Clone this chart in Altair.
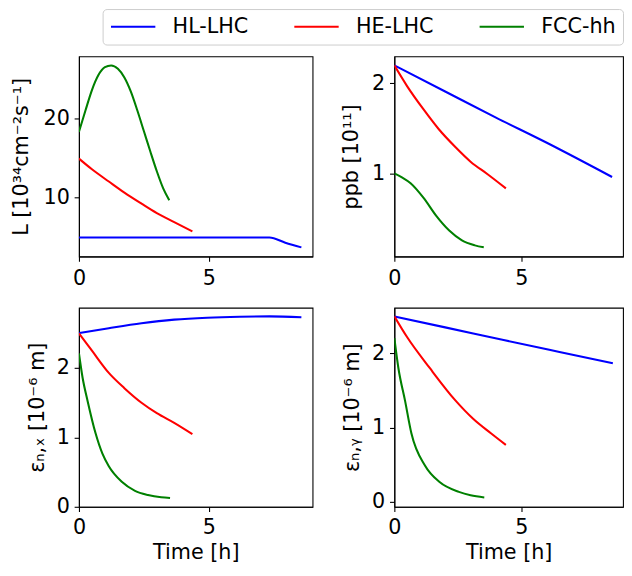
import altair as alt
import pandas as pd

machines = ["HL-LHC", "HE-LHC", "FCC-hh"]
colors = ["#0000ff", "#ff0000", "#008000"]

# Panel 1: luminosity [1e34 cm^-2 s^-1]
lumi_hl_t = [0, 2, 4, 6, 7.34, 7.95, 8.57]
lumi_hl_v = [4.9, 4.9, 4.9, 4.9, 4.9, 4.25, 3.65]
lumi_he_t = [0, 0.5, 1.15, 1.75, 2.41, 3.0, 3.67, 4.37]
lumi_he_v = [14.9, 13.55, 12.0, 10.6, 9.2, 8.0, 6.85, 5.68]
lumi_fcc_t = [0, 0.25, 0.5, 0.75, 1.0, 1.24, 1.5, 1.75, 2.0, 2.25, 2.5, 2.75, 3.0, 3.25, 3.48]
lumi_fcc_v = [18.3, 21.0, 23.6, 25.5, 26.5, 26.72, 26.3, 25.2, 23.4, 21.0, 18.4, 15.8, 13.3, 11.1, 9.63]

# Panel 2: protons per bunch [1e11]
ppb_hl_t = [0, 2, 4, 6, 8.57]
ppb_hl_v = [2.20, 1.91, 1.62, 1.34, 0.96]
ppb_he_t = [0, 0.5, 1.15, 1.75, 2.41, 3.0, 3.67, 4.39]
ppb_he_v = [2.2, 1.97, 1.71, 1.49, 1.29, 1.13, 0.99, 0.833]
ppb_fcc_t = [0, 0.3, 0.64, 1.15, 1.65, 2.16, 2.66, 3.17, 3.52]
ppb_fcc_v = [1.0, 0.955, 0.89, 0.727, 0.527, 0.364, 0.255, 0.2, 0.178]

# Panel 3: horizontal normalised emittance [1e-6 m]
ex_hl_t = [0, 1.15, 2.41, 3.67, 4.94, 6.2, 7.34, 8.57]
ex_hl_v = [2.505, 2.575, 2.646, 2.698, 2.726, 2.74, 2.745, 2.731]
ex_he_t = [0, 0.5, 1.15, 1.75, 2.41, 3.0, 3.67, 4.37]
ex_he_v = [2.5, 2.25, 1.93, 1.71, 1.50, 1.35, 1.21, 1.047]
ex_fcc_t = [0, 0.14, 0.33, 0.64, 0.9, 1.15, 1.65, 2.16, 2.66, 3.17, 3.51]
ex_fcc_v = [2.21, 1.86, 1.53, 1.06, 0.77, 0.585, 0.36, 0.23, 0.17, 0.137, 0.127]

# Panel 4: vertical normalised emittance [1e-6 m]
ey_hl_t = [0, 2, 4.3, 6.5, 8.6]
ey_hl_v = [2.496, 2.35, 2.18, 2.02, 1.868]
ey_he_t = [0, 0.5, 1.4, 2.41, 3.1, 3.8, 4.39]
ey_he_v = [2.5, 2.22, 1.80, 1.364, 1.12, 0.925, 0.768]
ey_fcc_t = [0, 0.16, 0.42, 0.67, 1.21, 1.78, 2.54, 3.0, 3.54]
ey_fcc_v = [2.206, 1.80, 1.364, 0.925, 0.487, 0.268, 0.136, 0.09, 0.061]

series = {
    "lumi": [(lumi_hl_t, lumi_hl_v), (lumi_he_t, lumi_he_v), (lumi_fcc_t, lumi_fcc_v)],
    "ppb": [(ppb_hl_t, ppb_hl_v), (ppb_he_t, ppb_he_v), (ppb_fcc_t, ppb_fcc_v)],
    "ex": [(ex_hl_t, ex_hl_v), (ex_he_t, ex_he_v), (ex_fcc_t, ex_fcc_v)],
    "ey": [(ey_hl_t, ey_hl_v), (ey_he_t, ey_he_v), (ey_fcc_t, ey_fcc_v)],
}

rows = []
for key, lst in series.items():
    for k, (ts, vs) in enumerate(lst):
        for t, v in zip(ts, vs):
            rows.append({"panel": key, "machine": machines[k], "order": k, "t": t, "v": v})
df = pd.DataFrame(rows)

FS = 21
FONT = "DejaVu Sans"


def panel(key, width, height, ydom, yvals, ytitle, title_x, xtitle, legend):
    xaxis = dict(values=[0, 5], format="d")
    if xtitle:
        xaxis.update(title=xtitle, titleX=width / 2, titleY=52, titleBaseline="alphabetic",
                     labelPadding=5)
    else:
        xaxis.update(title=None, labelPadding=6.7)
    yaxis = alt.Axis(values=yvals, format="d", title=ytitle, titleX=title_x,
                     titleY=height / 2, titleBaseline="alphabetic")
    if legend:
        leg = alt.Legend(orient="none", legendX=24, legendY=-48, direction="horizontal",
                         columns=3, title=None, symbolType="M-1,0H1", symbolSize=2025,
                         symbolStrokeWidth=2.1, labelFontSize=FS, labelFont=FONT,
                         labelColor="black", labelOffset=16, columnPadding=45, padding=7,
                         clipHeight=22, strokeColor="#cccccc", fillColor="white",
                         cornerRadius=4)
    else:
        leg = None
    return alt.Chart(df[df.panel == key]).mark_line(
        strokeWidth=2.1, interpolate="monotone", clip=True
    ).encode(
        x=alt.X("t:Q", scale=alt.Scale(domain=[0, 9.0], nice=False, zero=False),
                axis=alt.Axis(**xaxis)),
        y=alt.Y("v:Q", scale=alt.Scale(domain=ydom, nice=False, zero=False), axis=yaxis),
        color=alt.Color("machine:N", scale=alt.Scale(domain=machines, range=colors), legend=leg),
        order=alt.Order("order:Q"),
        detail="machine:N",
    ).properties(width=width, height=height)


tl = panel("lumi", 237, 203, [2.5, 27.87], [10, 20], "L [10³⁴cm⁻²s⁻¹]", -52, None, True)
tr = panel("ppb", 232, 203, [0.077, 2.30], [1, 2], "ppb [10¹¹]", -37, None, False)
bl = panel("ex", 237, 202, [0, 2.87], [0, 1, 2], "εₙ,ₓ [10⁻⁶ m]", -36, "Time [h]", False)
br = panel("ey", 232, 202, [-0.065, 2.615], [0, 1, 2], "εₙ,ᵧ [10⁻⁶ m]", -36, "Time [h]", False)

chart = alt.concat(
    tl, tr, bl, br, columns=2, spacing={"row": 52, "column": 83}, bounds="flush", align="each"
).resolve_scale(color="shared").properties(
    padding={"left": 2, "top": -4, "right": 0, "bottom": -1}
).configure_axis(
    domainColor="black", domainWidth=1.1, tickColor="black", tickWidth=1.1, tickSize=4.9,
    labelFont=FONT, labelFontSize=FS, labelColor="black", titleFont=FONT, titleFontSize=FS,
    titleFontWeight="normal", titleColor="black", grid=False, labelFlush=False,
    labelOverlap=False
).configure_axisY(labelPadding=4.8).configure_view(
    stroke="black", strokeWidth=1.1
)

chart.save("out.html", embed_options={"renderer": "svg", "actions": False})
